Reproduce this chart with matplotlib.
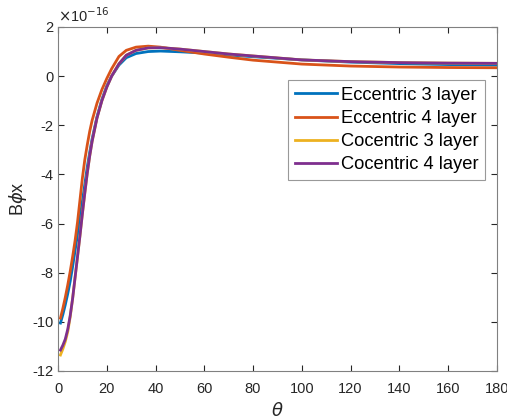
import matplotlib
matplotlib.use("Agg")
import matplotlib.pyplot as plt

theta = [1, 2, 3, 4, 5, 6, 7, 8, 9, 10, 11, 12, 13, 14, 16, 18, 20, 22, 25, 28, 32, 37, 42, 50,
         60, 70, 80, 100, 120, 140, 160, 180]

# values in units of 1e-16
ecc3 = [-10.05, -9.7, -9.3, -8.85, -8.35, -7.75, -7.1, -6.45, -5.8, -5.1, -4.4, -3.7, -3.1,
        -2.55, -1.65, -0.95, -0.4, 0.0, 0.45, 0.75, 0.92, 1.0, 1.02, 0.99,
        0.94, 0.86, 0.79, 0.66, 0.57, 0.51, 0.47, 0.45]
ecc4 = [-9.85, -9.45, -9.0, -8.5, -7.95, -7.35, -6.7, -5.95, -5.05, -4.15, -3.4, -2.8, -2.25,
        -1.8, -1.1, -0.55, -0.1, 0.3, 0.8, 1.05, 1.18, 1.22, 1.18, 1.05,
        0.9, 0.77, 0.65, 0.49, 0.41, 0.37, 0.35, 0.34]
co3 = [-11.35, -11.1, -10.8, -10.4, -9.8, -9.05, -8.2, -7.35, -6.5, -5.6, -4.75, -3.95, -3.25,
       -2.65, -1.7, -1.0, -0.45, 0.0, 0.5, 0.85, 1.05, 1.15, 1.16, 1.1,
       1.0, 0.9, 0.82, 0.66, 0.59, 0.55, 0.53, 0.52]
co4 = [-11.15, -10.95, -10.7, -10.3, -9.75, -9.05, -8.2, -7.35, -6.5, -5.6, -4.75, -3.95, -3.25,
       -2.65, -1.7, -1.0, -0.45, 0.0, 0.5, 0.85, 1.05, 1.15, 1.16, 1.1,
       1.0, 0.9, 0.82, 0.66, 0.59, 0.55, 0.53, 0.52]

labels = ["Eccentric 3 layer", "Eccentric 4 layer", "Cocentric 3 layer", "Cocentric 4 layer"]
colors = ["#0072BD", "#D95319", "#EDB120", "#7E2F8E"]

plt.rcParams["font.family"] = ["Liberation Sans", "DejaVu Sans"]
plt.rcParams["axes.unicode_minus"] = False
fig = plt.figure(figsize=(5.07, 4.19), dpi=100)
ax = fig.add_axes([0.1144, 0.1146, 0.8656, 0.821])

for y, c, lab in zip([ecc3, ecc4, co3, co4], colors, labels):
    ax.plot(theta, y, color=c, lw=2, label=lab)

ax.set_xlim(0, 180)
ax.set_ylim(-12, 2)
ax.set_xticks(range(0, 181, 20))
ax.set_yticks(range(-12, 3, 2))

gray = "#262626"
for s in ax.spines.values():
    s.set_color("#808080")
    s.set_linewidth(0.8)
ax.tick_params(direction="in", top=True, right=True, colors=gray, labelsize=10.5, length=4)
ax.tick_params(axis="x", pad=8)
ax.text(0.0, 1.005, r"$\times$10$^{-16}$", transform=ax.transAxes, fontsize=10.5,
        color=gray, ha="left", va="bottom")

ax.set_xlabel(r"$\theta$", fontsize=13, color=gray, labelpad=4)
ax.set_ylabel(r"B$\phi$x", fontsize=13, color=gray, labelpad=2)

leg = ax.legend(loc="upper right", bbox_to_anchor=(0.972, 0.845), fontsize=13.2, fancybox=False,
                handlelength=2.3, handletextpad=0.2, borderpad=0.35, labelspacing=0.34,
                borderaxespad=0)
leg.get_frame().set_edgecolor("#808080")
leg.get_frame().set_linewidth(0.8)

fig.savefig("out.png", dpi=100)
